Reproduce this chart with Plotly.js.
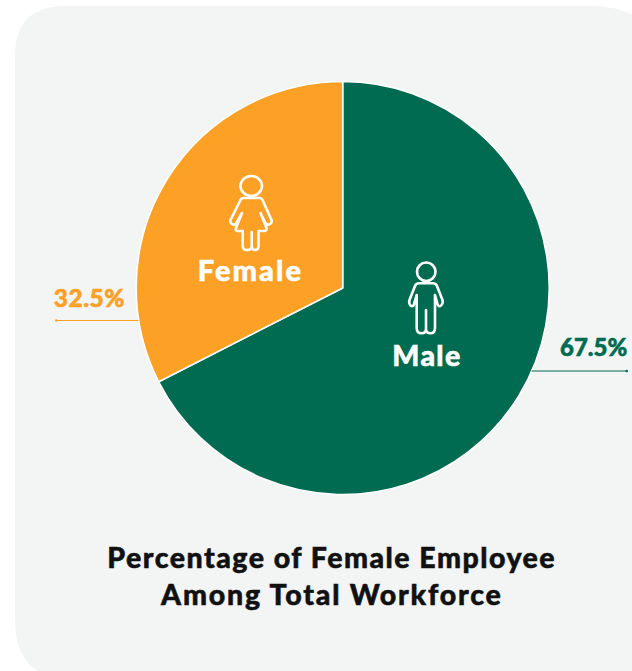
<!DOCTYPE html>
<html>
<head>
<meta charset="utf-8">
<script src="https://cdn.plot.ly/plotly-3.0.1.min.js"></script>
<style>
html,body{margin:0;padding:0;background:#fff;overflow:hidden}
#chart{width:632px;height:671px}
.shapelayer path{stroke-linejoin:round;stroke-linecap:round}
</style>
</head>
<body>
<div id="chart"></div>
<script>
const categories = ['Male', 'Female'];
const values = [67.5, 32.5];
const sliceColors = ['#006B50', '#FDA026'];
const valueLabels = ['67.5%', '32.5%'];
const chartTitleLines = ['Percentage of Female Employee', 'Among Total Workforce'];

const W = 632, H = 671;
const FONT = 'Lato, "Open Sans", sans-serif';
const px = x => x / W;
const py = y => 1 - y / H;
function path(s) {
  let isX = true;
  return s.replace(/-?\d+(\.\d+)?/g, n => {
    const v = isX ? px(+n) : py(+n);
    isX = !isX;
    return v.toFixed(5);
  });
}
const panel = 'M15 56 Q15 6 65 6 L590 6 Q655 6 655 60 L655 620 Q655 680 590 680 L75 680 Q15 680 15 620 Z';
const femaleBody = 'M243 198 L260 198 Q262 198 263 201 L271 219 Q273 222 270 224 Q267 226 265 222 L260.5 213 L266.5 228 Q267 231 264 231 L258.5 231 L258.5 246 Q258.5 250 255 250 Q251.7 250 251.7 246 L251.7 232 L251.7 246 Q251.7 250 247 250 Q242.7 250 242.7 246 L242.7 231 L238 231 Q235 231 236 228 L242 213 L237 222 Q235 226 232 224 Q229 222 231 219 L240 201 Q241 198 243 198 Z';
const maleBody = 'M419 283.3 L433 283.3 Q436 283.3 437 286 L442.5 300 Q443.5 303 441 305.5 Q438.5 307.5 437.5 304 L435 295 L435 328 Q435 333.3 430.5 333.3 Q426 333.3 426 329 L426 310 L426 329 Q426 333.3 421.5 333.3 Q416.7 333.3 416.7 328 L416.7 295 L414 304 Q413 307.5 410.5 305.5 Q408.5 303 409.5 300 L415 286 Q416 283.3 419 283.3 Z';

const iconLine = {color: '#fff', width: 2.6};
const shapes = [
  {type: 'path', xref: 'paper', yref: 'paper', layer: 'below', path: path(panel), fillcolor: '#F3F5F5', line: {width: 0}},
  {type: 'circle', xref: 'paper', yref: 'paper', layer: 'above', x0: px(240.5), x1: px(262), y0: py(196), y1: py(176), line: iconLine},
  {type: 'path', xref: 'paper', yref: 'paper', layer: 'above', path: path(femaleBody), line: iconLine},
  {type: 'circle', xref: 'paper', yref: 'paper', layer: 'above', x0: px(417), x1: px(435.5), y0: py(281), y1: py(262.5), line: iconLine},
  {type: 'path', xref: 'paper', yref: 'paper', layer: 'above', path: path(maleBody), line: iconLine},
  {type: 'line', xref: 'paper', yref: 'paper', layer: 'above', x0: px(532), x1: px(627), y0: py(371), y1: py(371), line: {color: sliceColors[0], width: 1}},
  {type: 'circle', xref: 'paper', yref: 'paper', layer: 'above', x0: px(625.5), x1: px(628), y0: py(372.2), y1: py(369.8), fillcolor: sliceColors[0], line: {width: 0}},
  {type: 'line', xref: 'paper', yref: 'paper', layer: 'above', x0: px(56), x1: px(138), y0: py(320.5), y1: py(320.5), line: {color: sliceColors[1], width: 1}},
  {type: 'circle', xref: 'paper', yref: 'paper', layer: 'above', x0: px(55), x1: px(57.5), y0: py(321.7), y1: py(319.3), fillcolor: sliceColors[1], line: {width: 0}}
];

function note(text, x, y, size, color) {
  return {text: text, x: px(x), y: py(y), xref: 'paper', yref: 'paper', xanchor: 'center', yanchor: 'middle',
    showarrow: false, font: {family: FONT, size: size, color: color, weight: 900}};
}
const annotations = [
  note(categories[1], 250.5, 269, 29, '#fff'),
  note(categories[0], 426.5, 355, 28.5, '#fff'),
  note(valueLabels[1], 89.5, 297, 24.5, sliceColors[1]),
  note(valueLabels[0], 593.5, 347, 24, sliceColors[0]),
  note(chartTitleLines[0], 331.5, 557, 28.5, '#111'),
  note(chartTitleLines[1], 331.5, 594, 28.5, '#111')
];
const letterGaps = [2.1, 1.4, 0.5, 0, 1.5, 1.8];

Plotly.newPlot('chart', [{
  type: 'pie',
  labels: categories,
  values: values,
  sort: false,
  direction: 'clockwise',
  rotation: 0,
  textinfo: 'none',
  hoverinfo: 'label+percent',
  marker: {colors: sliceColors, line: {color: '#fff', width: 1.5}},
  domain: {x: [px(136.2), px(549.2)], y: [py(494.5), py(81.5)]}
}], {
  width: W, height: H,
  margin: {l: 0, r: 0, t: 0, b: 0},
  paper_bgcolor: '#fff',
  showlegend: false,
  shapes: shapes,
  annotations: annotations
}, {displayModeBar: false, staticPlot: true}).then(() => {
  document.querySelectorAll('.annotation text').forEach((t, i) => {
    t.style.letterSpacing = letterGaps[i] + 'px';
    t.style.stroke = t.style.fill;
    t.style.strokeWidth = '0.55px';
  });
});
</script>
</body>
</html>
